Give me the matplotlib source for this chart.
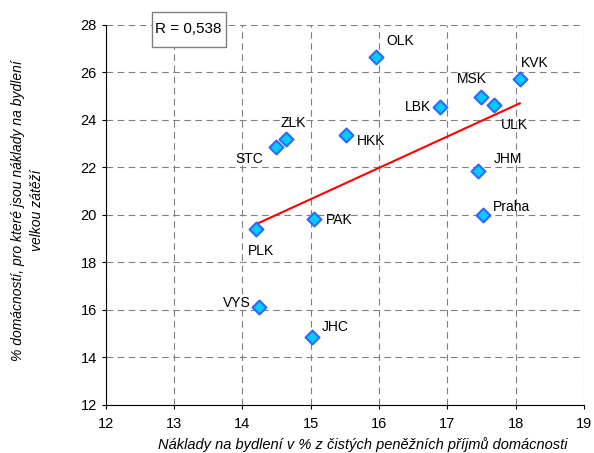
import numpy as np
import matplotlib.pyplot as plt
from matplotlib.patches import Rectangle

# regions: x = housing costs as % of income, y = % households burdened
regions = ['OLK', 'KVK', 'MSK', 'ULK', 'LBK', 'HKK', 'ZLK', 'STC', 'JHM',
           'Praha', 'PAK', 'PLK', 'VYS', 'JHC']
naklady = [15.95, 18.06, 17.50, 17.68, 16.89, 15.51, 14.64, 14.49, 17.45,
           17.53, 15.05, 14.20, 14.25, 15.02]
zatez = [26.65, 25.73, 24.97, 24.63, 24.55, 23.37, 23.20, 22.86, 21.85,
         20.00, 19.83, 19.41, 16.13, 14.86]
# label offsets in points (dx, dy, ha)
offs = {'OLK': (8, 11.5, 'left'), 'KVK': (0.7, 11.5, 'left'),
        'MSK': (-18, 13, 'left'), 'ULK': (5, -14.4, 'left'),
        'LBK': (-6, 0, 'right'), 'HKK': (8, -4.3, 'left'),
        'ZLK': (-4, 11.5, 'left'), 'STC': (-9, -8.6, 'right'),
        'JHM': (11, 8.6, 'left'), 'Praha': (7, 5.8, 'left'),
        'PAK': (8.6, -0.7, 'left'), 'PLK': (-5.8, -15.8, 'left'),
        'VYS': (-6.5, 2.9, 'right'), 'JHC': (7, 7, 'left')}

x = np.array(naklady)
y = np.array(zatez)

fig = plt.figure(figsize=(5.94, 4.53), dpi=100)
ax = fig.add_axes([0.178, 0.106, 0.805, 0.839])

ax.scatter(x, y, marker='D', s=50, c='#00ccff', edgecolors='#3366ff',
           linewidths=1.5, zorder=3)

# linear trend
k, q = np.polyfit(x, y, 1)
xs = np.array([x.min(), x.max()])
ax.plot(xs, k * xs + q, color='red', lw=1.5, zorder=2)

for name, xi, yi in zip(regions, x, y):
    dx, dy, ha = offs[name]
    ax.annotate(name, (xi, yi), xytext=(dx, dy), textcoords='offset points',
                fontsize=10, family='Liberation Sans', va='center', ha=ha)

ax.set_xlim(12, 19)
ax.set_ylim(12, 28)
ax.set_xticks(range(12, 20))
ax.set_yticks(range(12, 29, 2))
ax.grid(True, linestyle=(0, (6, 4)), color='#808080', lw=0.8)
ax.set_axisbelow(True)
ax.spines['top'].set_visible(False)
ax.spines['right'].set_visible(False)
ax.tick_params(direction='out', length=3, labelsize=10.5)
ax.tick_params(axis='x', pad=6)
ax.tick_params(axis='y', pad=3.5)
for lab in ax.get_xticklabels() + ax.get_yticklabels():
    lab.set_family('Liberation Sans')

fig.text(0.611, 0.018, 'Náklady na bydlení v % z čistých peněžních příjmů domácnosti',
         fontsize=10.5, style='italic', family='Liberation Sans',
         ha='center', va='center')
fig.text(0.046, 0.536, '% domácností, pro které jsou náklady na bydlení\nvelkou zátěží',
         fontsize=10, style='italic', family='Liberation Sans', rotation=90,
         ha='center', va='center', linespacing=1.5)

# correlation coefficient box
r = np.corrcoef(x, y)[0, 1]
ax.add_patch(Rectangle((0.096, 0.942), 0.155, 0.092, transform=ax.transAxes,
                       fc='white', ec='#808080', lw=1, clip_on=False, zorder=4))
ax.text(0.1735, 0.99, 'R = ' + f'{r:.3f}'.replace('.', ','), transform=ax.transAxes,
        fontsize=11, family='Liberation Sans', ha='center', va='center', zorder=5)

plt.savefig('out.png')
